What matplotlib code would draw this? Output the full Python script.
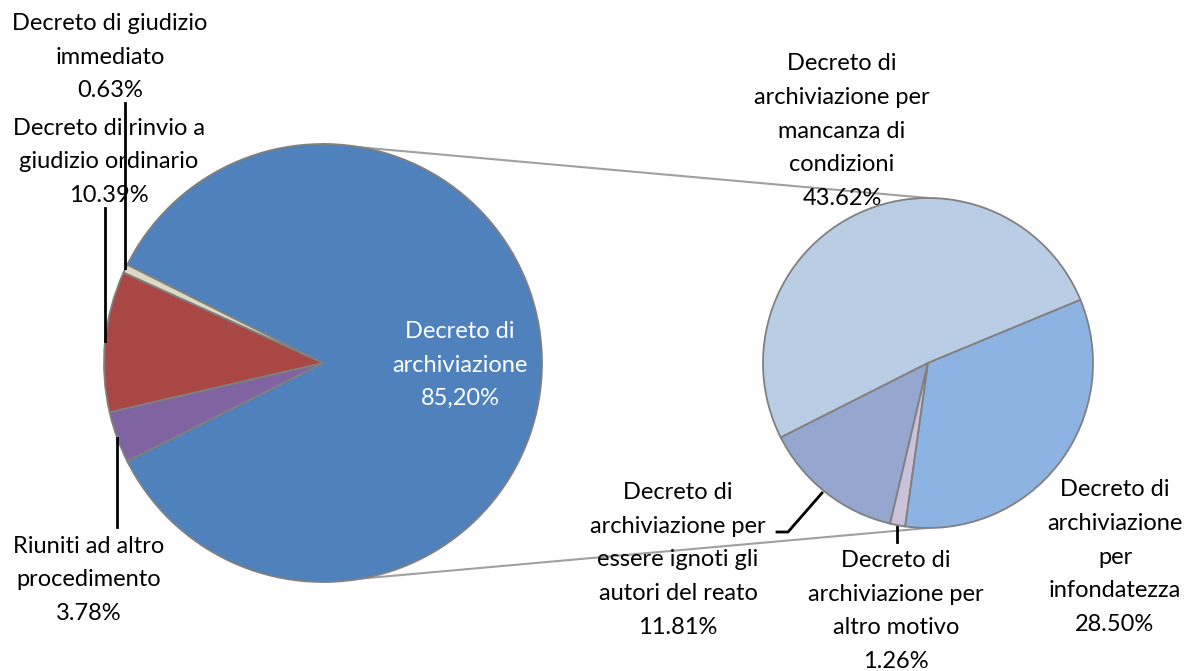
import matplotlib
matplotlib.use("Agg")
from matplotlib import pyplot as plt

W, H = 1190, 671

# main pie
main_labels = ["Decreto di\narchiviazione", "Decreto di giudizio\nimmediato",
               "Decreto di rinvio a\ngiudizio ordinario", "Riuniti ad altro\nprocedimento"]
main_values = [85.20, 0.63, 10.39, 3.78]
main_pct = ["85,20%", "0.63%", "10.39%", "3.78%"]
main_colors = ["#4F81BD", "#DDD9C3", "#A94744", "#8064A2"]

# secondary pie (breakdown of "Decreto di archiviazione")
sub_labels = ["Decreto di\narchiviazione per\nmancanza di\ncondizioni",
              "Decreto di\narchiviazione per\nessere ignoti gli\nautori del reato",
              "Decreto di\narchiviazione per\naltro motivo",
              "Decreto di\narchiviazione\nper\ninfondatezza"]
sub_values = [43.62, 11.81, 1.26, 28.50]
sub_colors = ["#B9CDE5", "#95A6CF", "#CCC1DA", "#8DB3E2"]

plt.rcParams['font.family'] = ['Lato', 'DejaVu Sans']

fig = plt.figure(figsize=(W / 100, H / 100), dpi=100)
ax = fig.add_axes([0, 0, 1, 1])

def py(y):
    # pixel row -> data y
    return H - y

edge = dict(edgecolor='#808080', linewidth=1.3)

# left pie, blue slice centred on 0 deg
start_main = -main_values[0] / sum(main_values) * 360 / 2
ax.pie(main_values, colors=main_colors, startangle=start_main, counterclock=True,
       center=(323, py(363)), radius=219, wedgeprops=edge, frame=True)

# right pie
ax.pie(sub_values, colors=sub_colors, startangle=22.5, counterclock=True,
       center=(928, py(363)), radius=165, wedgeprops=edge, frame=True)
ax.set_xlim(0, W)
ax.set_ylim(0, H)
ax.set_aspect('equal')
ax.axis('off')

# connectors between pies
ax.plot([323, 928], [py(144), py(198)], color='#A0A0A0', lw=1.5, zorder=0)
ax.plot([323, 928], [py(582), py(528)], color='#A0A0A0', lw=1.5, zorder=0)

fs = 17
txt = dict(ha='center', va='center', fontsize=fs, linespacing=1.75)

ax.text(460, py(365), main_labels[0] + "\n" + main_pct[0], color='white', **txt)
ax.text(110, py(57), main_labels[1] + "\n" + main_pct[1], color='black', **txt)
ax.text(109, py(162), main_labels[2] + "\n" + main_pct[2], color='black', **txt)
ax.text(89, py(580), main_labels[3] + "\n" + main_pct[3], color='black', **txt)

sub_pos = [(842, 131), (678, 560), (896, 611), (1115, 557)]
for lab, v, (x, y) in zip(sub_labels, sub_values, sub_pos):
    ax.text(x, py(y), lab + "\n%.2f%%" % v, color='black', **txt)

# leader lines
lead = dict(color='black', lw=2)
ax.plot([125, 125], [py(103), py(268)], **lead)
ax.plot([105, 105], [py(208), py(341)], **lead)
ax.plot([117, 117], [py(438), py(527)], **lead)
ax.plot([777, 788, 822], [py(532), py(532), py(493)], **lead)
ax.plot([897, 897], [py(527), py(542)], **lead)

fig.savefig("out.png", dpi=100)
